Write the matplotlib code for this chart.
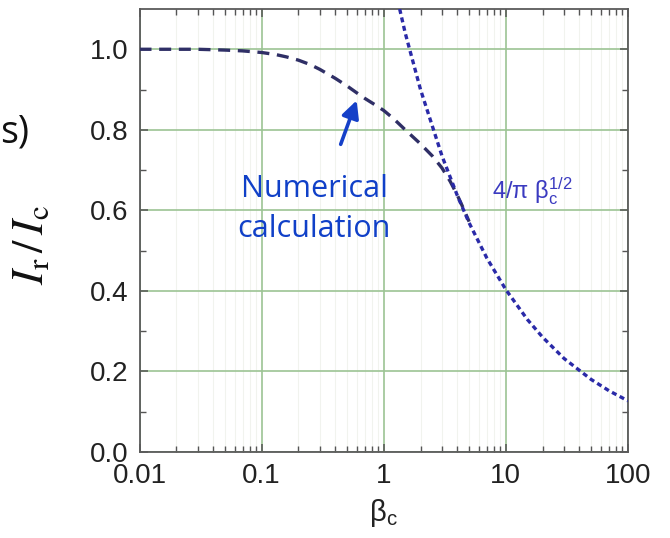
import matplotlib
matplotlib.use("Agg")
import matplotlib.pyplot as plt
from matplotlib.ticker import FixedLocator, LogLocator, NullFormatter

plt.rcParams["font.family"] = ["Liberation Sans", "DejaVu Sans"]
plt.rcParams["mathtext.fontset"] = "custom"
plt.rcParams["mathtext.rm"] = "Liberation Sans"
plt.rcParams["mathtext.it"] = "Liberation Sans:italic"
plt.rcParams["mathtext.sf"] = "Liberation Sans"

# numerical return current vs. McCumber parameter
beta_num = [0.01, 0.02, 0.03, 0.05, 0.07, 0.1, 0.13, 0.16, 0.2, 0.25, 0.3,
            0.4, 0.5, 0.6, 0.7, 0.85, 1.0, 1.2, 1.5, 2.0, 2.5, 3.0, 3.5,
            4.0, 4.5, 5.0]
ir_num = [1.0, 1.0, 1.0, 0.998, 0.996, 0.992, 0.987, 0.981, 0.973, 0.962,
          0.95, 0.928, 0.909, 0.892, 0.878, 0.862, 0.848, 0.828, 0.80,
          0.765, 0.735, 0.705, 0.672, 0.638, 0.604, 0.572]

# large-beta asymptote
beta_asym = [1.35, 1.5, 2, 3, 4, 5, 7, 10, 15, 20, 30, 50, 70, 100]
ir_asym = [1.10, 1.04, 0.90, 0.735, 0.637, 0.569, 0.481, 0.403, 0.329,
           0.285, 0.232, 0.180, 0.152, 0.127]

xticks = [0.01, 0.1, 1, 10, 100]
xticklabels = ["0.01", "0.1", "1", "10", "100"]
yticks = [0.0, 0.2, 0.4, 0.6, 0.8, 1.0]

W, H = 670, 538
fig = plt.figure(figsize=(W / 100, H / 100), dpi=100)
ax = fig.add_axes([139.5 / W, 1 - 452 / H, (628 - 139.5) / W, (452 - 9) / H])

ax.set_xscale("log")
ax.set_xlim(0.01, 100)
ax.set_ylim(0, 1.1)

ax.plot(beta_num, ir_num, color="#2f2f66", lw=2.4, dashes=(3.6, 2.3),
        solid_capstyle="butt", zorder=3)
ax.plot(beta_asym, ir_asym, color="#2a2aa8", lw=2.4, dashes=(1.5, 1.1),
        zorder=3)

ax.set_xticks(xticks)
ax.set_xticklabels(xticklabels)
ax.xaxis.set_minor_locator(LogLocator(base=10, subs=range(2, 10)))
ax.xaxis.set_minor_formatter(NullFormatter())
ax.set_yticks(yticks)
ax.set_yticklabels([f"{v:.1f}" for v in yticks])
ax.yaxis.set_minor_locator(FixedLocator([0.1, 0.3, 0.5, 0.7, 0.9]))

ax.grid(True, which="major", color="#9cc494", lw=1.2)
ax.grid(True, which="minor", axis="x", color="#f1f3ee", lw=0.8)
ax.set_axisbelow(True)

ax.tick_params(which="both", direction="in", top=True, right=True,
               colors="#555555", labelcolor="#222222")
ax.tick_params(which="major", length=6, width=1.1, labelsize=20, pad=8)
ax.tick_params(which="minor", length=4, width=1.0)
for s in ax.spines.values():
    s.set_color("#5a5a5a")
    s.set_linewidth(1.3)

ax.set_xlabel(r"$\mathrm{\beta_c}$", fontsize=21, color="#222222", labelpad=6)
ax.set_ylabel(r"$I_\mathrm{r}\,/\,I_\mathrm{c}$", fontsize=32,
              color="#111111", math_fontfamily="stix")
ax.yaxis.set_label_coords(-0.18, 0.467)

# labels for the two curves
ax.annotate("", xy=(0.60, 0.873), xytext=(0.444, 0.764),
            arrowprops=dict(arrowstyle="-|>", color="#1540c8", lw=2.6,
                            mutation_scale=26, shrinkA=0, shrinkB=0))
fig.text(314 / W, 1 - 209 / H, "Numerical\ncalculation", color="#1040c8",
         fontsize=22, family="Open Sans", ha="center", va="center",
         linespacing=1.45)
fig.text(492 / W, 1 - 198 / H, r"$\mathrm{4/\pi\ \beta_c^{1/2}}$",
         color="#3a3ac0", fontsize=17, ha="left", va="baseline")
fig.text(0 / W, 1 - 132 / H, "s)", color="#111111", fontsize=27,
         family="Open Sans", ha="left", va="center")

fig.savefig("out.png", dpi=100)
